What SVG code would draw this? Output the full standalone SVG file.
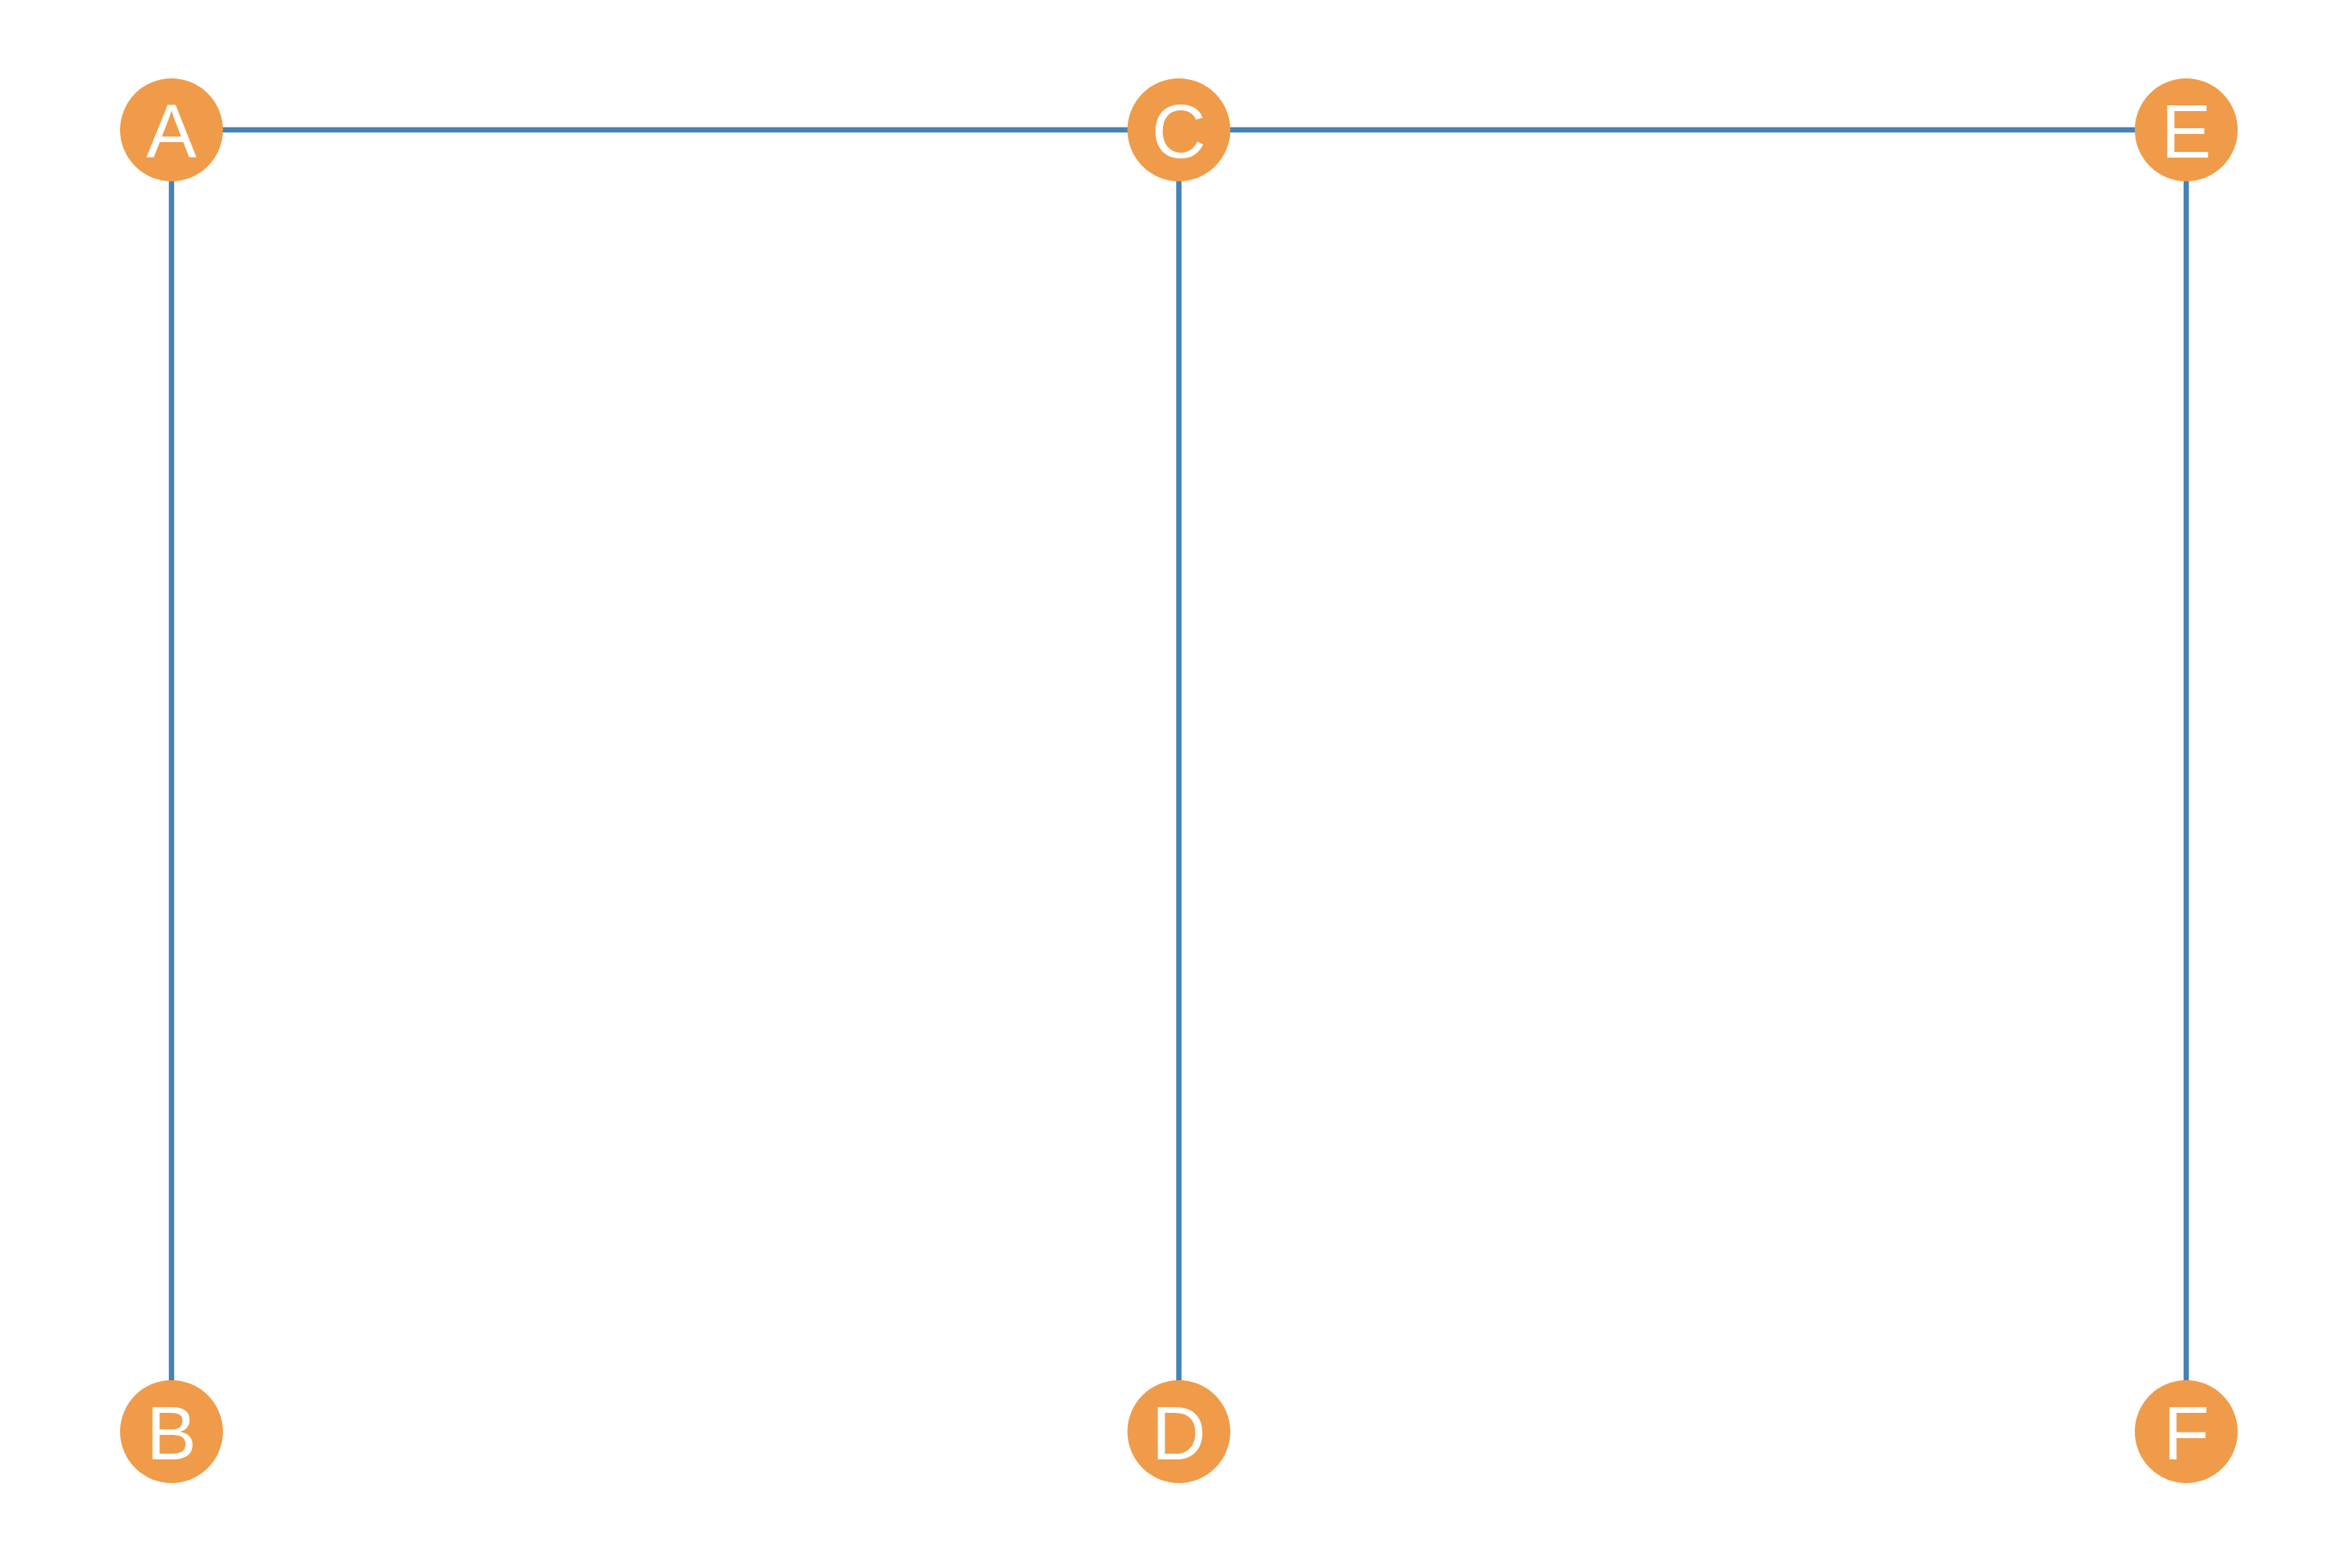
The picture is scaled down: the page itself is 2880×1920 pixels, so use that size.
<svg xmlns="http://www.w3.org/2000/svg" width="2880" height="1920" viewBox="0 0 2880 1920">
<style>
.edge{stroke:#4682B4;stroke-width:6.5;fill:none}
.node circle{fill:#F09B49}
.node text{fill:#FFFFFF;font-family:"Liberation Sans",Arial,sans-serif;font-size:92px;text-anchor:middle}
</style>
<rect width="2880" height="1920" fill="#FFFFFF"/>
<g id="connectors">
<line class="edge" x1="210" y1="159" x2="1443.5" y2="159"/>
<line class="edge" x1="1443.5" y1="159" x2="2677" y2="159"/>
<line class="edge" x1="210" y1="159" x2="210" y2="1753"/>
<line class="edge" x1="1443.5" y1="159" x2="1443.5" y2="1753"/>
<line class="edge" x1="2677" y1="159" x2="2677" y2="1753"/>
</g>
<g id="node-A" class="node"><circle cx="210" cy="159" r="63"/><text x="210" y="193">A</text></g>
<g id="node-B" class="node"><circle cx="210" cy="1753" r="63"/><text x="210" y="1787">B</text></g>
<g id="node-C" class="node"><circle cx="1443.5" cy="159" r="63"/><text x="1443.5" y="193">C</text></g>
<g id="node-D" class="node"><circle cx="1443.5" cy="1753" r="63"/><text x="1443.5" y="1787">D</text></g>
<g id="node-E" class="node"><circle cx="2677" cy="159" r="63"/><text x="2677" y="193">E</text></g>
<g id="node-F" class="node"><circle cx="2677" cy="1753" r="63"/><text x="2677" y="1787">F</text></g>
</svg>
